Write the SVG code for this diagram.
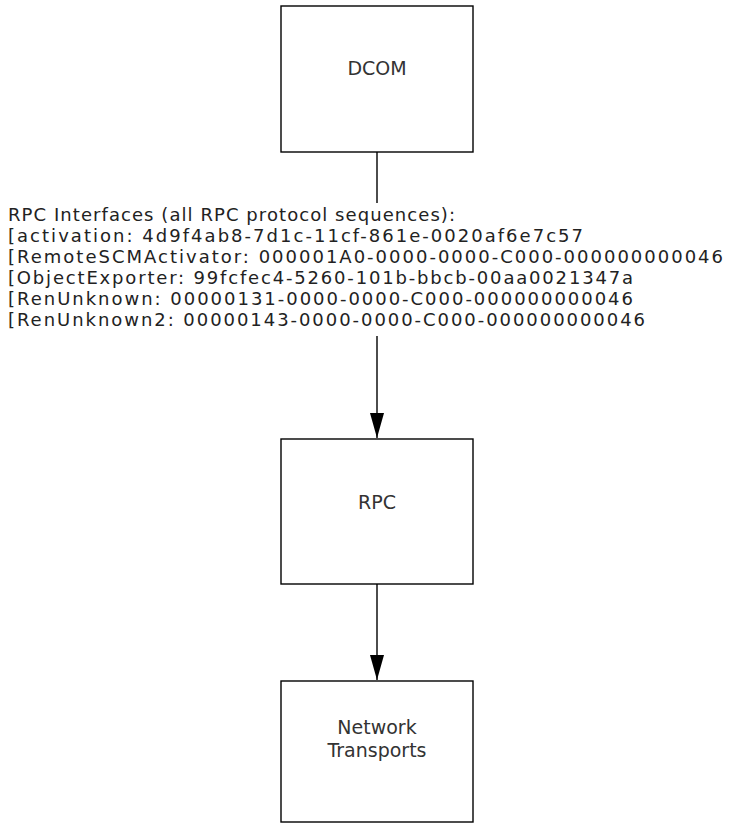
<svg xmlns="http://www.w3.org/2000/svg" width="738" height="823" viewBox="0 0 738 823">
<style>
.box{fill:#fff;stroke:#000;stroke-width:1.4}
.lbl{font-family:"DejaVu Sans",Verdana,sans-serif;font-size:19px;fill:#333;text-anchor:middle}
.list{font-family:"DejaVu Sans",Verdana,sans-serif;font-size:18px;fill:#222}
.conn{stroke:#000;stroke-width:1.4;fill:none}
</style>
<defs>
<marker id="arr" markerUnits="userSpaceOnUse" markerWidth="25" markerHeight="14" refX="25" refY="7" orient="auto" viewBox="0 0 25 14">
<path d="M0,0 L25,7 L0,14 Z" fill="#000"/>
</marker>
</defs>
<rect width="738" height="823" fill="#fff"/>
<g id="connectors">
<line class="conn" x1="377" y1="152" x2="377" y2="203"/>
<line class="conn" x1="377" y1="336" x2="377" y2="438" marker-end="url(#arr)"/>
<line class="conn" x1="377" y1="584" x2="377" y2="680" marker-end="url(#arr)"/>
</g>
<g id="dcom">
<rect class="box" x="281" y="6" width="192" height="146"/>
<text class="lbl" x="377" y="75">DCOM</text>
</g>
<g id="interfaces">
<text class="list"><tspan x="8" y="221" textLength="447" lengthAdjust="spacing">RPC Interfaces (all RPC protocol sequences):</tspan><tspan x="8" y="242" textLength="575" lengthAdjust="spacing">[activation: 4d9f4ab8-7d1c-11cf-861e-0020af6e7c57</tspan><tspan x="8" y="263" textLength="715" lengthAdjust="spacing">[RemoteSCMActivator: 000001A0-0000-0000-C000-000000000046</tspan><tspan x="8" y="284" textLength="625" lengthAdjust="spacing">[ObjectExporter: 99fcfec4-5260-101b-bbcb-00aa0021347a</tspan><tspan x="8" y="305" textLength="625" lengthAdjust="spacing">[RenUnknown: 00000131-0000-0000-C000-000000000046</tspan><tspan x="8" y="326" textLength="637" lengthAdjust="spacing">[RenUnknown2: 00000143-0000-0000-C000-000000000046</tspan></text>
</g>
<g id="rpc">
<rect class="box" x="281" y="439" width="192" height="145"/>
<text class="lbl" x="377" y="509">RPC</text>
</g>
<g id="network">
<rect class="box" x="281" y="681" width="192" height="141"/>
<text class="lbl" x="377" y="734">Network</text>
<text class="lbl" x="377" y="757">Transports</text>
</g>
</svg>
